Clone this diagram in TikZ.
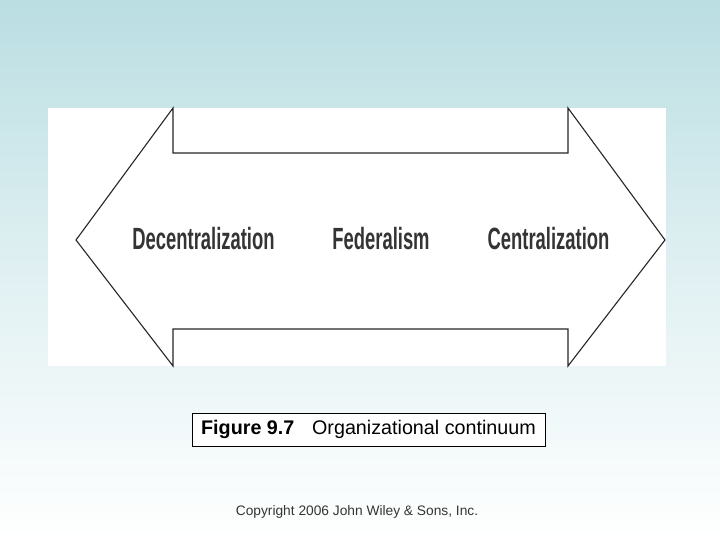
\documentclass[tikz,border=0pt]{standalone}
\usepackage{fontspec}
\setmainfont{Liberation Sans}
\newfontfamily\condbold[FakeStretch=0.6]{Liberation Sans Bold}
\usetikzlibrary{positioning}
\definecolor{bgtop}{RGB}{186,222,226}
\definecolor{inkgrey}{RGB}{52,52,52}

\begin{document}
\begin{tikzpicture}[x=1bp,y=-1bp,
  scalelabel/.style={font=\condbold\fontsize{30.8}{32}\selectfont, text=inkgrey, inner sep=0pt, anchor=base},
  arrowline/.style={draw=black!85, line width=1.1bp, line join=miter}]
  \useasboundingbox (0,0) rectangle (720,540);
  \shade[top color=bgtop, bottom color=white, middle color=bgtop!45!white] (0,0) rectangle (720,540);
  % white panel with the double arrow
  \fill[white] (48,108) rectangle (666,366);
  \draw[arrowline] (76,240) -- (173,108) -- (173,153) -- (568,153) -- (568,108)
    -- (665,240) -- (568,366) -- (568,329) -- (173,329) -- (173,366) -- cycle;
  \node[scalelabel] (decentral) at (203.5,250) {Decentralization};
  \node[scalelabel] (federal) at (381,250) {Federalism};
  \node[scalelabel] (central) at (548.5,250) {Centralization};
  % caption
  \node[draw=black, line width=0.8bp, fill=white, minimum width=353bp, minimum height=33bp,
    inner sep=0pt, font=\fontsize{19.8}{22}\selectfont] (caption) at (368.5,429.5)
    {\textbf{Figure 9.7}\hspace{0.9em}Organizational continuum};
  \node[font=\fontsize{13.8}{16}\selectfont, text=inkgrey, inner sep=0pt, anchor=base]
    (copyright) at (357,515) {Copyright 2006 John Wiley \& Sons, Inc.};
\end{tikzpicture}
\end{document}
